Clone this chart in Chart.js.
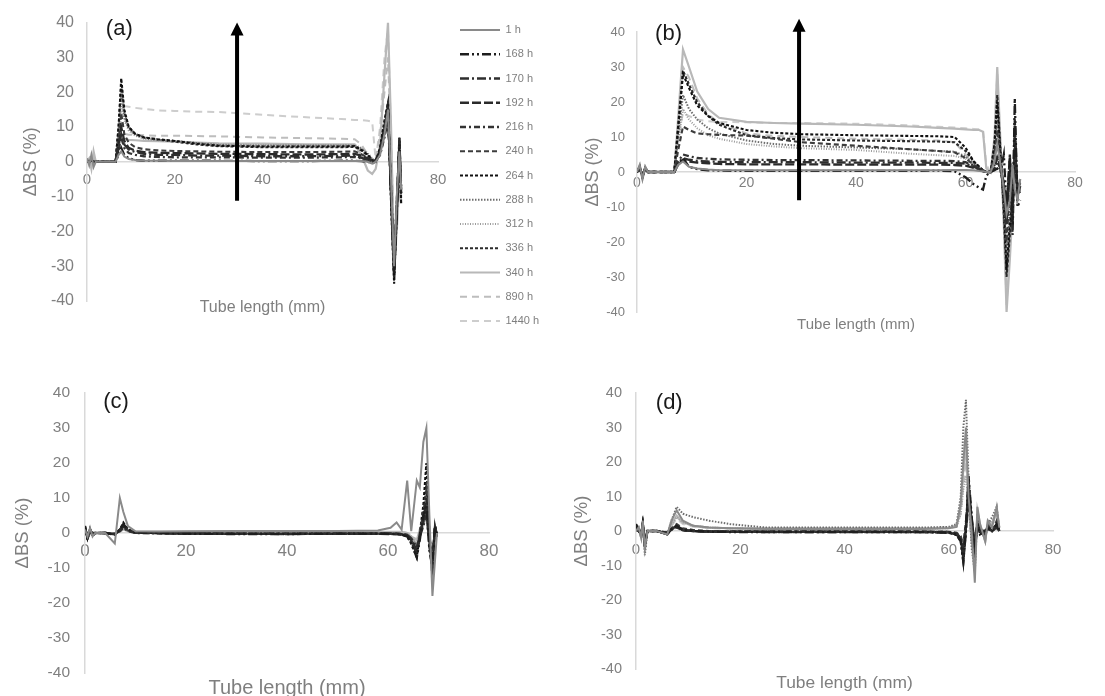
<!DOCTYPE html>
<html><head><meta charset="utf-8">
<script src="https://cdn.jsdelivr.net/npm/chart.js@4.4.0/dist/chart.umd.min.js"></script>
<style>
html,body{margin:0;padding:0;background:#fff;overflow:hidden;}
#page{position:relative;width:1105px;height:696px;overflow:hidden;background:#fff;}
canvas{position:absolute;}
</style></head><body><div id="page">
<canvas id="cA" width="555" height="345" style="left:0;top:0"></canvas>
<canvas id="cB" width="550" height="345" style="left:555px;top:0"></canvas>
<canvas id="cC" width="555" height="360" style="left:0;top:345px"></canvas>
<canvas id="cD" width="555" height="360" style="left:550px;top:345px"></canvas>
</div>
<script>
// ---------- categories / ticks ----------
const seriesLabels = ['1 h','168 h','170 h','192 h','216 h','240 h','264 h','288 h','312 h','336 h','340 h','890 h','1440 h'];
const xTicks = [0, 20, 40, 60, 80];
const yTicks = [-40, -30, -20, -10, 0, 10, 20, 30, 40];

// ---------- panel (a) ----------
const xA = [0,0.5,1,1.5,2, 4,6.5,7.2,7.8,8.5, 9.5,11,13,16,20, 25,30,40,50,58, 61,62.5,64,65,65.8, 66.8,67.8,68.6,69.3,70, 70.6,71.2,71.6];
const a1h    = [1,-1,2,-1.5,0, 0,0,2,3,1.5, 0.8,0.5,0.3,0.3,0.2, 0.2,0.2,0.2,0.2,0.2, 0.2,0.2,0,-0.5,0, 2,8,15,-5,-30, -10,3,-8];
const a168h  = [0.5,0,0.5,0,0, 0,0,2,4,2, 1,0.5,0.3,0.3,0.3, 0.3,0.3,0.2,0.2,0.3, 0.3,0.2,0,-0.5,0, 3,10,17,-10,-33, -15,5,-10];
const a170h  = [0,0,0.5,0,0, 0,0,4,8,5, 3.5,2.8,2.3,2.0,2.0, 1.8,1.8,1.6,1.6,1.7, 1.8,1.2,0.5,0,0.5, 2,8,14,-8,-30, -12,6,-8];
const a192h  = [0,0,0.5,0,0, 0,0,5,10,6, 4,3.2,2.8,2.6,2.5, 2.4,2.3,2.2,2.1,2.2, 2.3,1.8,1,0.3,0.5, 3,9,16,-9,-32, -14,7,-9];
const a216h  = [0,0,0.5,0,0, 0,0,3.5,7,4, 2.5,2,1.6,1.4,1.3, 1.3,1.3,1.2,1.2,1.3, 1.4,1,0.5,0,0.3, 2,7,12,-7,-28, -12,5,-7];
const a240h  = [0,0,0.5,0,0, 0,0,6,14,8, 5.5,4.2,3.6,3.3,3.1, 3,2.9,2.8,2.8,2.9, 3,2.2,1.2,0.3,0.5, 3,10,16,-9,-31, -13,6,-9];
const a264h  = [0,0,0.5,0,0, 0,0,10,24,15, 10,8,7,6.5,6, 5.2,4.6,4.4,4.4,4.4, 4.5,3.5,2,0.5,0, 4,12,17,-12,-35, -15,7,-12];
const a288h  = [0,0,0.5,0,0, 0,0,9,20,13, 9.5,7.8,6.8,6.3,6, 5.4,4.8,4.6,4.6,4.6, 4.6,3.8,2.2,0.8,0, 3,11,15,-10,-33, -14,5,-11];
const a312h  = [0,0,0.5,0,0, 0,0,8,17,12, 9,7.5,6.6,6.2,5.9, 5.4,5,4.8,4.8,4.8, 4.8,4,2.5,1,0.3, 3,10,14,-9,-32, -13,4,-10];
const a336h  = [0,0,0.5,0,0, 0,0,10,22,14, 10,8,7,6.4,5.8, 5,4.5,4.2,4.2,4.2, 4.3,3.3,1.8,0.5,0, 4,11,16,-11,-34, -15,6,-11];
const a340h  = [0,1,-2,3,0, 0,0,4,7,6.5, 6.3,6.2,6,5.9,5.8, 5.5,5.3,5.2,5,5, 5,2,-2.5,-3.5,-2, 5,25,40,10,-30, -20,-5,-12];
const a890h  = [0,0.5,-1,1,0, 0,0,5,8,8, 7.8,7.7,7.6,7.5,7.5, 7.4,7.3,7,6.8,6.6, 6.5,5,2,0,1, 8,20,30,5,-25, -15,-3,-10];
const a1440h = [0,0.5,-1,1,0, 0,0,8,15,16, 15.8,15.5,15.2,14.8,14.6, 14.4,14.3,13.5,12.8,12.3, 12,12,11.8,11.5,0.5, 10,30,38,8,-25, -18,-5,-12];

// ---------- panel (b) ----------
const xB = [0,0.5,1,1.5,2, 4,6.8,7.5,8.4,9.5, 11,13,15,20,25, 30,40,50,55,58, 60,61.5,62.5,63.2,63.8, 64.6,65.3,65.8,66.4,67, 67.5,68.1,68.6,69,69.5, 70];
const b1h    = [0,2,-2,1.5,0, 0,0,2,3,1.5, 1,0.7,0.5,0.5,0.5, 0.5,0.5,0.5,0.5,0.6, 0.6,0.5,0.3,0.2,0, 0,3,8,2,-5, -12,-8,2,-5,-8, -2];
const b168h  = [0.5,1,-1,1,0, 0,0,2,4,1.5, 0.8,0.5,0.4,0.3,0.3, 0.3,0.3,0.3,0.4,0.2, -1.5,-3.5,-4.5,-5,-1, 0,0.5,1,0,5, -10,4,-15,21,-10, -8];
const b170h  = [0,1,-1,1,0, 0,0,2.5,4,3.5, 3.2,3,2.9,2.8,2.8, 2.8,2.7,2.7,2.6,2.6, 2.4,1.5,0.8,0.3,0, 0,1,3,1,-4, -15,3,-18,10,-6, -5];
const b192h  = [0,1,-1,1,0, 0,0,2,3.5,3, 2.7,2.5,2.3,2.2,2.2, 2.2,2.1,2.1,2.1,2, 1.8,1.2,0.6,0.2,0, 0,1,4,1,-3, -12,5,-14,15,-7, -4];
const b216h  = [0,1,-1,1,0, 0,0,3,5,4.5, 4,3.8,3.6,3.5,3.4, 3.4,3.3,3.2,3.2,3.1, 2.8,1.8,1,0.4,0, 0,2,5,1,-5, -14,4,-12,8,-5, -6];
const b240h  = [0,1.5,-1.5,1,0, 0,0,6,13,12, 11,10.8,10.6,10.4,9.5, 8.5,7.5,6.5,6,5.6, 4,2,1,0.5,0, 0,5,12,3,-8, -20,-5,-10,3,-5, -3];
const b264h  = [0,1.5,-1.5,1,0, 0,0,12,28,24, 19,16,14,12,11.2, 10.8,10.5,10.3,10.2,10, 7,3,1.5,0.5,0, 0,8,20,5,-10, -28,-15,-8,2,-5, -3];
const b288h  = [0,1,-1,1,0, 0,0,10,22,18, 15,12.5,11,9,8, 7.5,7,6.5,6,5.8, 4.5,2.5,1.2,0.4,0, 0,6,15,4,-9, -25,-12,-6,2,-4, -3];
const b312h  = [0,1,-1,1,0, 0,0,8,18,15, 12.5,10.5,9.5,8,7.3, 6.8,6.3,5.2,4.8,4.6, 3.8,2.2,1,0.3,0, 0,5,12,3,-8, -22,-10,-5,1,-4, -2];
const b336h  = [0,1.5,-1.5,1,0, 0,0,13,29,25, 20,16,13.5,10.5,9.7, 9.3,9,8.8,8.7,8.5, 6,3,1.5,0.5,0, 0,8,22,6,-12, -30,-18,-8,3,-6, -4];
const b340h  = [0,2,-2,1.5,0, 0,0,15,35,30, 23,18,15.5,14.3,14, 13.8,13.5,13,12.6,12.4, 12.2,12,12,11.5,1, 0,10,30,8,-15, -40,-25,-10,-3,-5, -2];
const b890h  = [0,2,-2,1.5,0, 0,0,13,30,27, 21,16.5,14,11,10.3, 10,9.5,9.2,9,8.5, 5,2,1,0.5,0, 0,9,28,7,-12, -35,-20,-8,-2,-5, -3];
const b1440h = [0,1.5,-1.5,1,0, 0,0,9,17,16, 15,14.5,14.3,14.2,14, 14,13.8,13.3,12.9,12.7, 12.5,12.3,12.2,12,2, 0,9,25,6,-14, -38,-22,-9,-3,-5, -2];

// ---------- panel (c) ----------
const xC = [0,0.5,1,1.5,2, 4,5.9,6.9,7.6,8.5, 10,15,20,30,40, 50,58,60.5,61.7,62.7, 63.8,64.6,65.7,66.3,67, 67.6,68.2,68.8,69.3,69.7];
const c1h    = [1,-1,1.5,-1,0, 0,-3,10,6,2, 0.5,0.4,0.5,0.6,0.6, 0.6,0.7,1.5,3,1, 15,0.5,15,13,26, 30,5,-18,-8,0];
const c168h  = [2,-2,1,-1,0, 0,-0.5,1,2.5,1, 0.2,0,-0.2,-0.3,-0.3, -0.2,-0.2,-0.3,-0.3,-0.5, -1,-3,-7,-2,5, 8,-5,-10,2,-1];
const c170h  = [1.5,-1.5,1,-0.5,0, 0,-0.3,1,2,0.8, 0.1,0,-0.1,-0.2,-0.2, -0.2,-0.2,-0.2,-0.3,-0.4, -0.8,-2.5,-6,-1,4, 6,-3,-8,1.5,-1];
const c192h  = [1,-1,0.5,-0.5,0, 0,-0.3,0.8,2,0.8, 0.1,-0.1,-0.2,-0.2,-0.3, -0.2,-0.2,-0.2,-0.2,-0.3, -0.5,-2,-5,-1,3, 10,-4,-9,2,-0.5];
const c216h  = [1,-1,0.5,0,0, 0,-0.2,0.5,1.5,0.5, 0,-0.1,-0.1,-0.2,-0.2, -0.2,-0.2,-0.2,-0.2,-0.3, -0.6,-1.5,-4,-1,2, 5,-2,-7,1,-0.5];
const c240h  = [1.5,-1,0.5,0,0, 0,-0.3,0.8,2.2,0.7, 0.1,0,-0.1,-0.2,-0.2, -0.2,-0.2,-0.2,-0.3,-0.4, -0.7,-2,-5,0,6, 12,-3,-10,2,-1];
const c264h  = [2,-1.5,1,-0.5,0, 0,-0.5,1,3,1, 0.2,0,-0.2,-0.3,-0.3, -0.3,-0.3,-0.3,-0.4,-0.5, -1,-3,-7,0,8, 20,0,-10,2,-1];
const c288h  = [1,-1,0.5,0,0, 0,-0.3,0.8,1.8,0.6, 0.1,0,0,-0.1,-0.1, -0.1,-0.1,-0.1,-0.2,-0.3, -0.5,-1.5,-4,0,4, 9,-2,-8,1,-0.5];
const c312h  = [1,-0.5,0.5,0,0, 0,-0.2,0.5,1.5,0.5, 0.1,0,0,-0.1,-0.1, -0.1,-0.1,-0.1,-0.2,-0.2, -0.4,-1,-3,0,3, 7,-1,-6,1,-0.5];
const c336h  = [1.5,-1.5,1,-0.5,0, 0,-0.4,1,2.5,0.9, 0.2,0,-0.2,-0.3,-0.3, -0.2,-0.2,-0.3,-0.3,-0.4, -0.8,-2.5,-6,-1,5, 14,-3,-9,2,-1];
const c340h  = [0.5,-0.5,0.5,0,0, 0,-0.2,0.5,1,0.5, 0.3,0.3,0.3,0.3,0.3, 0.3,0.3,0.3,0.3,0.3, 0,-1,-2,1,3, 6,-2,-12,0,0];
const c890h  = [0.5,-0.5,0.5,0,0, 0,-0.2,0.5,1,0.5, 0.2,0.2,0.2,0.2,0.2, 0.2,0.2,0.2,0.2,0.2, 0,-1,-3,0,2, 5,-3,-14,-2,0];
const c1440h = [0.5,-0.5,0.5,0,0, 0,-0.2,0.5,1,0.5, 0.2,0.2,0.2,0.2,0.2, 0.2,0.2,0.2,0.2,0.2, 0,-0.5,-2,0,2, 4,-2,-15,-3,0];

// ---------- panel (d) ----------
const xD = [0,0.5,1,1.3,1.7, 2.2,4,6,6.8,7.8, 9,11,14,18,25, 40,55,60,61.5,62.3, 62.8,63.3,63.8,64.4,65, 65.5,66,67,67.5,68.3, 69.2,69.7];
const d1h    = [0,1,-2,3,-5, 0,0,-1,3,6, 3,1.5,1,0.8,0.6, 0.6,0.6,0.8,1.2,8, 20,30,10,0,-15, 7,2,-3,3,1, 7,1];
const d168h  = [2,0,-1,2,-4, 0,0,-1,0.5,1.5, 0.3,0,-0.2,-0.3,-0.3, -0.3,-0.3,-0.5,-1,-3, -9,0,16,4,-5, 2,-1,0,1,0, 2,0];
const d170h  = [1.5,0,-1,2,-3, 0,0,-0.5,0.5,1.2, 0.2,0,-0.2,-0.2,-0.2, -0.2,-0.3,-0.4,-0.8,-2, -6,2,10,3,-4, 2,0,0,1,0, 1,0];
const d192h  = [1.5,0.5,-1,2,-4, 0,0,-0.5,0.5,1.5, 0.3,0,-0.2,-0.2,-0.3, -0.3,-0.3,-0.4,-1,-2.5, -8,1,14,3,-5, 2,0,0,1,0, 2,0];
const d216h  = [1,0,-0.5,1.5,-3, 0,0,-0.5,0.3,1, 0.2,0,-0.1,-0.2,-0.2, -0.2,-0.2,-0.3,-0.7,-2, -5,1,8,2,-3, 1,0,0,0.5,0, 1,0];
const d240h  = [1.5,0,-1,2,-3, 0,0,-0.5,0.8,2, 0.8,0.3,0,-0.1,-0.1, -0.1,-0.1,-0.2,-0.5,-1.5, -4,3,9,2,-4, 3,0,-1,2,0, 3,0];
const d264h  = [2,0,-1,2.5,-5, 0,0,-1,0.5,1.5, 0.3,0,-0.2,-0.3,-0.3, -0.3,-0.3,-0.5,-1.2,-3, -9,0,15,4,-6, 2,-1,0,1,0, 2,0];
const d288h  = [0,1,-2,3,-7, 0,0,-1,3,7, 5,4,3,2,1, 1,1,1.2,2,10, 30,38,15,-5,-12, 5,0,-2,2,4, 7,0];
const d312h  = [0,0.5,-1,2,-4, 0,0,-1,2,4, 2.5,1.5,1,0.8,0.7, 0.7,0.7,0.8,1.2,5, 12,16,8,-2,-8, 4,1,-1,2,3, 5,0];
const d336h  = [1.5,0,-1,2,-4, 0,0,-0.5,0.5,1.5, 0.3,0,-0.2,-0.2,-0.2, -0.2,-0.2,-0.4,-1,-2.5, -7,1,12,3,-5, 2,0,0,1,0, 2,0];
const d340h  = [0,1,-2,2.5,-5, 0,0,-1,2,4.5, 2.5,1.5,1,0.8,0.8, 0.8,0.8,1,1.5,7, 18,25,8,-3,-10, 6,2,-3,3,2, 6,1];
const d890h  = [0,0.5,-1,2,-4, 0,0,-1,1.5,4, 2.5,1.5,1,0.8,0.8, 0.8,0.8,1,1.5,6, 15,22,6,-3,-10, 5,1,-3,2,2, 5,1];
const d1440h = [0,0.5,-1,2,-4, 0,0,-1,1.5,3.5, 2,1.2,0.8,0.7,0.7, 0.7,0.7,0.9,1.3,5, 13,20,5,-3,-9, 5,1,-2,2,2, 5,1];

// ---------- styles (separate from data) ----------
const seriesColors = ['#8a8a8a','#1e1e1e','#2e2e2e','#2a2a2a','#333333','#3c3c3c','#111111','#6e6e6e','#9c9c9c','#2b2b2b','#b8b8b8','#bdbdbd','#cdcdcd'];
const seriesDash = [[], [9,3,2,3,2,3], [9,3,2,3], [9,3], [6,3,2,3], [5,3], [3,2], [1.5,1.5], [1,1.5], [3,2], [], [7,5], [7,5]];
const seriesWidth = [2,2.3,2.3,2.3,2.3,2.1,2.1,2,2,2.1,2.2,2,2];

Chart.defaults.font.family = "'Liberation Sans', Arial, sans-serif";

const annot = {
  id: 'annot',
  afterDatasetsDraw(chart, args, o) {
    const ctx = chart.ctx, x = chart.scales.x, y = chart.scales.y;
    ctx.save();
    if (o.label) {
      ctx.font = o.labelSize + "px 'Liberation Sans', Arial, sans-serif";
      ctx.fillStyle = '#1a1a1a';
      ctx.textAlign = 'left';
      ctx.textBaseline = 'middle';
      ctx.fillText(o.label, x.getPixelForValue(o.labelAt[0]), y.getPixelForValue(o.labelAt[1]));
    }
    if (o.arrow) {
      const ax = x.getPixelForValue(o.arrow[0]);
      const yb = y.getPixelForValue(o.arrow[1]);
      const yt = y.getPixelForValue(o.arrow[2]);
      ctx.strokeStyle = '#000'; ctx.lineWidth = 4; ctx.setLineDash([]);
      ctx.beginPath(); ctx.moveTo(ax, yb); ctx.lineTo(ax, yt + 10); ctx.stroke();
      ctx.fillStyle = '#000';
      ctx.beginPath(); ctx.moveTo(ax, yt); ctx.lineTo(ax - 6.5, yt + 13); ctx.lineTo(ax + 6.5, yt + 13); ctx.closePath(); ctx.fill();
    }
    ctx.restore();
  }
};

function buildDatasets(xs, series) {
  return series.map((ys, i) => ({
    label: seriesLabels[i],
    data: xs.map((xv, j) => ({x: xv, y: ys[j]})),
    borderColor: seriesColors[i],
    backgroundColor: seriesColors[i],
    borderWidth: seriesWidth[i],
    borderDash: seriesDash[i],
    pointRadius: 0,
    tension: 0,
    fill: false,
    xAxisID: 'x', yAxisID: 'y'
  }));
}

function dummy(extra) {
  return Object.assign({type: 'linear', display: true, min: 0, max: 1,
    grid: {display: false, drawTicks: false}, border: {display: false}, ticks: {display: false}}, extra);
}

function makeChart(id, xs, series, p) {
  const scales = {
    x: {type: 'linear', position: {y: 0}, min: 0, max: 80,
      afterBuildTicks: s => { s.ticks = xTicks.map(v => ({value: v})); },
      afterFit: s => { s.height = 0; },
      grid: {display: false, drawTicks: false},
      border: {display: true, color: '#d9d9d9', width: 1.5},
      ticks: {color: '#808080', font: {size: p.xTickSize}, padding: p.xTickPad, maxRotation: 0, autoSkip: false}},
    y: {type: 'linear', position: 'left', min: -40, max: 40,
      afterBuildTicks: s => { s.ticks = yTicks.map(v => ({value: v})); },
      afterFit: s => { s.width = p.yWidth; },
      grid: {display: false, drawTicks: false},
      border: {display: true, color: '#d9d9d9', width: 1.5},
      ticks: {color: '#808080', font: {size: p.yTickSize}, padding: p.yTickPad},
      title: {display: true, text: 'ΔBS (%)', color: '#7f7f7f', font: {size: p.yTitleSize}, padding: {top: p.yTitlePad, bottom: 0}}},
    x2: dummy({position: 'bottom', min: 0, max: 80,
      afterFit: s => { s.height = p.x2Height; },
      title: {display: true, text: 'Tube length (mm)', color: '#7f7f7f', font: {size: p.xTitleSize}, padding: {top: 0, bottom: p.xTitlePad}}})
  };
  if (p.topGap) scales.xT = dummy({position: 'top', afterFit: s => { s.height = p.topGap; }});
  if (p.rightGap) scales.yR = dummy({position: 'right', afterFit: s => { s.width = p.rightGap; }});
  const legend = p.legend ? {
    display: true, position: 'right', align: 'start', maxWidth: 100,
    labels: {usePointStyle: true, pointStyleWidth: 40, boxHeight: 11, padding: 13.25, color: '#7f7f7f', font: {size: 11},
      generateLabels: chart => chart.data.datasets.map((ds, i) => ({
        text: ds.label, fillStyle: ds.borderColor, strokeStyle: ds.borderColor, lineWidth: ds.borderWidth,
        lineDash: ds.borderDash, lineCap: 'butt', pointStyle: 'line', hidden: false, datasetIndex: i, fontColor: '#7f7f7f'}))}
  } : {display: false};
  return new Chart(document.getElementById(id), {
    type: 'line',
    data: {datasets: buildDatasets(xs, series)},
    options: {
      responsive: false, animation: false, devicePixelRatio: 1, events: [],
      layout: {padding: p.padding, autoPadding: false},
      scales: scales,
      plugins: {legend: legend, tooltip: {enabled: false}, title: {display: false},
        annot: {label: p.label, labelAt: p.labelAt, labelSize: 22, arrow: p.arrow}}
    },
    plugins: [annot]
  });
}

makeChart('cA', xA, [a1h,a168h,a170h,a192h,a216h,a240h,a264h,a288h,a312h,a336h,a340h,a890h,a1440h], {
  padding: {top: 11.25, right: 8.25, bottom: 0, left: 0}, topGap: 8.75, rightGap: 8.75, legend: true,
  yWidth: 87, yTitleSize: 18, yTitlePad: 20.2, yTickSize: 16, yTickPad: 13,
  xTickSize: 15, xTickPad: 9, x2Height: 44, xTitleSize: 16, xTitlePad: 27.4,
  label: '(a)', labelAt: [4.3, 38.1], arrow: [34.2, -11.2, 40]
});
makeChart('cB', xB, [b1h,b168h,b170h,b192h,b216h,b240h,b264h,b288h,b312h,b336h,b340h,b890h,b1440h], {
  padding: {top: 32, right: 30, bottom: 0, left: 0},
  yWidth: 82, yTitleSize: 18, yTitlePad: 27.2, yTickSize: 13, yTickPad: 12,
  xTickSize: 14, xTickPad: 3, x2Height: 33, xTitleSize: 15, xTitlePad: 11,
  label: '(b)', labelAt: [3.3, 39.5], arrow: [29.6, -8.1, 43.8]
});
makeChart('cC', xC, [c1h,c168h,c170h,c192h,c216h,c240h,c264h,c288h,c312h,c336h,c340h,c890h,c1440h], {
  padding: {top: 48, right: 66, bottom: 0, left: 0},
  yWidth: 85, yTitleSize: 18.5, yTitlePad: 11.9, yTickSize: 15.5, yTickPad: 15,
  xTickSize: 17, xTickPad: 8.5, x2Height: 32, xTitleSize: 20, xTitlePad: 5,
  label: '(c)', labelAt: [3.6, 37.4]
});
makeChart('cD', xD, [d1h,d168h,d170h,d192h,d216h,d240h,d264h,d288h,d312h,d336h,d340h,d890h,d1440h], {
  padding: {top: 48, right: 52, bottom: 0, left: 0},
  yWidth: 86, yTitleSize: 18.5, yTitlePad: 20.9, yTickSize: 14.5, yTickPad: 14,
  xTickSize: 15, xTickPad: 9.5, x2Height: 36, xTitleSize: 17.4, xTitlePad: 11.6,
  label: '(d)', labelAt: [3.8, 37.2]
});
</script></body></html>
